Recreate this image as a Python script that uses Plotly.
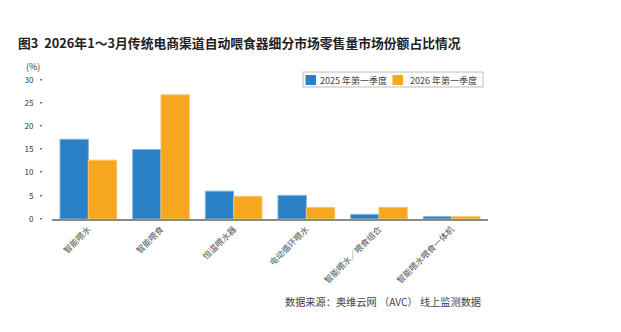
import plotly.graph_objects as go

categories = ["智能喂水", "智能喂食", "恒温喂水器", "电动循环喂水", "智能喂水／喂食组合", "智能喂水喂食一体机"]
series_names = ["2025 年第一季度", "2026 年第一季度"]
values_2025 = [17.2, 15.0, 6.0, 5.1, 1.0, 0.5]
values_2026 = [12.7, 26.8, 4.9, 2.5, 2.5, 0.5]
y_ticks = [0, 5, 10, 15, 20, 25, 30]

FONT = "Noto Sans CJK SC"
BLUE = "#2A80C4"
ORANGE = "#F7A71F"
COLORS = [BLUE, ORANGE]

W, H = 621, 332
L, R, T, B = 52, 133, 80, 112.5
PW, PH = W - L - R, H - T - B


def px_x(p):
    return (p - L) / PW


def px_y(p):
    return (H - B - p) / PH


fig = go.Figure()
fig.add_trace(go.Bar(x=categories, y=values_2025, name=series_names[0], showlegend=False,
                     marker=dict(color=BLUE, line=dict(color="#7FB3DE", width=1))))
fig.add_trace(go.Bar(x=categories, y=values_2026, name=series_names[1], showlegend=False,
                     marker=dict(color=ORANGE, line=dict(color="#F9C46A", width=1))))

fig.update_layout(
    width=W, height=H,
    margin=dict(l=L, r=R, t=T, b=B, pad=0),
    paper_bgcolor="white", plot_bgcolor="white",
    barmode="group", bargap=0.22, bargroupgap=0,
    font=dict(family=FONT, color="#333"),
    title=dict(text="<b>图3  2026年1～3月传统电商渠道自动喂食器细分市场零售量市场份额占比情况</b>",
               x=18 / W, xanchor="left", xref="container",
               y=1 - 44 / H, yanchor="middle", yref="container",
               font=dict(family=FONT, size=12.8, color="#222")),
    showlegend=False,
)

fig.update_xaxes(
    showgrid=False, showline=True, linecolor="#8a8a8a", linewidth=2,
    ticks="", tickangle=-45, tickfont=dict(family=FONT, size=8.5, color="#555"),
)
fig.update_yaxes(
    range=[0, 30], tickvals=y_ticks, ticktext=[f"{v}  •" for v in y_ticks],
    showgrid=False, showline=False, zeroline=False, ticks="",
    ticklabelstandoff=6,
    tickfont=dict(family=FONT, size=8, color="#333"),
)

# legend box
fig.add_shape(type="rect", xref="paper", yref="paper",
              x0=px_x(303), x1=px_x(483), y0=px_y(87), y1=px_y(72),
              line=dict(color="#bbb", width=1), fillcolor="white", layer="above")
for i, (name, col, sx, tx) in enumerate(zip(series_names, COLORS, [305.5, 392.5], [318, 408])):
    fig.add_shape(type="rect", xref="paper", yref="paper",
                  x0=px_x(sx), x1=px_x(sx + 10.5), y0=px_y(85), y1=px_y(75),
                  line=dict(width=0), fillcolor=col, layer="above")
    fig.add_annotation(text=name, xref="paper", yref="paper", x=px_x(tx), xanchor="left",
                       y=px_y(80), yanchor="middle", showarrow=False,
                       font=dict(family=FONT, size=9, color="#444"))

fig.add_annotation(text="(%)", xref="paper", yref="paper", x=px_x(24), xanchor="left",
                   y=px_y(66), yanchor="middle",
                   showarrow=False, font=dict(family=FONT, size=9, color="#333"))
fig.add_annotation(text="数据来源：奥维云网 （AVC） 线上监测数据", xref="paper", yref="paper",
                   x=0.9885, xanchor="right", y=-0.591, yanchor="middle",
                   showarrow=False, font=dict(family=FONT, size=10.2, color="#444"))

fig.write_html("out.html")
